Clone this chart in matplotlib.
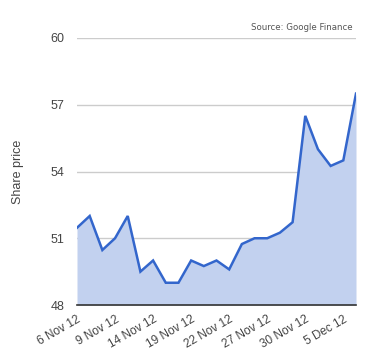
import matplotlib
matplotlib.use("Agg")
import matplotlib.pyplot as plt

dates = ["6 Nov 12", "7 Nov 12", "8 Nov 12", "9 Nov 12", "12 Nov 12", "13 Nov 12",
         "14 Nov 12", "15 Nov 12", "16 Nov 12", "19 Nov 12", "20 Nov 12", "21 Nov 12",
         "22 Nov 12", "23 Nov 12", "26 Nov 12", "27 Nov 12", "28 Nov 12", "29 Nov 12",
         "30 Nov 12", "3 Dec 12", "4 Dec 12", "5 Dec 12", "6 Dec 12"]
prices = [51.47, 52.0, 50.47, 51.0, 52.0, 49.5, 50.0, 49.0, 49.0, 50.0, 49.75, 50.0,
          49.6, 50.74, 51.0, 51.0, 51.25, 51.72, 56.5, 55.0, 54.25, 54.5, 57.5]
label_dates = ["6 Nov 12", "9 Nov 12", "14 Nov 12", "19 Nov 12", "22 Nov 12",
               "27 Nov 12", "30 Nov 12", "5 Dec 12"]
yticks = [48, 51, 54, 57, 60]

plt.rcParams['font.family'] = ['Liberation Sans', 'DejaVu Sans']

fig = plt.figure(figsize=(3.8, 3.6), dpi=100)
ax = fig.add_axes([77/380, 1-305/360, (356-77)/380, (305-38)/360])

x = list(range(len(dates)))
ax.fill_between(x, prices, 48, color='#c2d1ef', linewidth=0)
ax.plot(x, prices, color='#3366cc', linewidth=1.8, solid_joinstyle='miter')

ax.set_xlim(0, len(dates)-1)
ax.set_ylim(48, 60)
ax.set_yticks(yticks)
ax.set_yticklabels([str(v) for v in yticks])
ax.set_xticks([dates.index(d) for d in label_dates])
ax.set_xticklabels(label_dates, rotation=30, ha='right', rotation_mode='anchor')

for v in yticks[1:]:
    ax.axhline(v, color='#cccccc', linewidth=1, zorder=0)

for s in ['top', 'right', 'left']:
    ax.spines[s].set_visible(False)
ax.spines['bottom'].set_color('#333333')
ax.spines['bottom'].set_linewidth(1.2)
ax.tick_params(axis='y', length=0, colors='#444444', labelsize=9, pad=9)
ax.tick_params(axis='x', length=0, colors='#444444', labelsize=8.5, pad=6)

ax.set_ylabel('Share price', color='#444444', fontsize=9, labelpad=19)

fig.text(353/380, 1-27/360, 'Source: Google Finance', ha='right', va='center',
         fontsize=6.2, color='#555555', family=['DejaVu Sans'])

fig.savefig('out.png', dpi=100)
